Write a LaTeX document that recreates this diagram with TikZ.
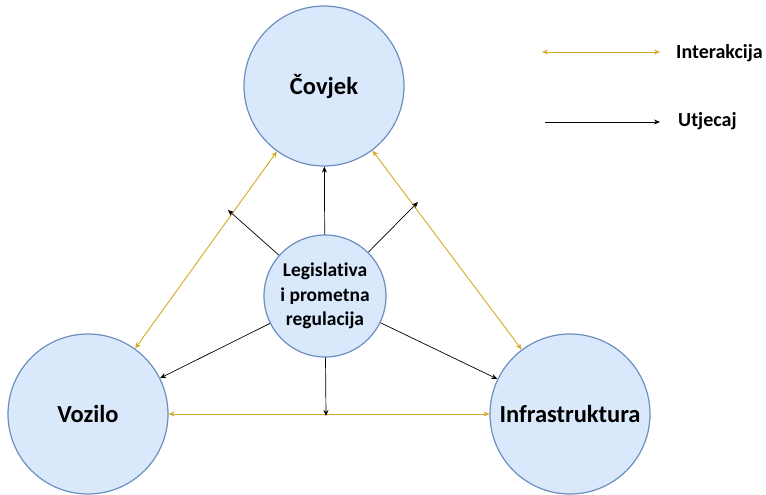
\documentclass[tikz,border=0pt]{standalone}
\usepackage{fontspec}
\setmainfont{Carlito}[Ligatures=NoCommon]
\usetikzlibrary{arrows.meta}
\definecolor{cfill}{RGB}{218,232,252}
\definecolor{cdraw}{RGB}{108,142,191}
\definecolor{gold}{RGB}{214,168,40}
\begin{document}
\begin{tikzpicture}[x=1pt,y=-1pt,
  bigc/.style={circle,draw=cdraw,fill=cfill,line width=1.2pt,minimum size=160pt,inner sep=0pt,font=\fontsize{24.5}{28}\selectfont\bfseries},
  midc/.style={circle,draw=cdraw,fill=cfill,line width=1.2pt,minimum size=122pt,inner sep=0pt,align=center,font=\fontsize{19.5}{24.5}\selectfont\bfseries},
  inter/.style={draw=gold,line width=0.9pt,{Stealth[length=6pt,width=5pt]}-{Stealth[length=6pt,width=5pt]}},
  infl/.style={draw=black,line width=0.7pt,-{Stealth[length=6pt,width=5pt]}},
  lab/.style={font=\fontsize{20}{22}\selectfont\bfseries,anchor=west,inner sep=0pt}]
\useasboundingbox (0,0) rectangle (766,495);
\node[bigc] (c) at (324,86) {Čovjek};
\node[bigc] (v) at (88,414) {Vozilo};
\node[bigc] (i) at (570,414) {Infrastruktura};
\node[midc] (m) at (325,296) {Legislativa\\i prometna\\regulacija};
\coordinate (ul) at (228,210);
\coordinate (ur) at (418,202);
\coordinate (dn) at (326,416);
\draw[inter] (c) -- (v);
\draw[inter] (c) -- (i);
\draw[inter] (v) -- (i);
\draw[infl] (m) -- (c);
\draw[infl] (m) -- (ul);
\draw[infl] (m) -- (ur);
\draw[infl] (m) -- (v);
\draw[infl] (m) -- (dn);
\draw[infl] (m) -- (i);
\coordinate (l1a) at (542,52);
\coordinate (l1b) at (660,52);
\coordinate (l2a) at (545,122);
\coordinate (l2b) at (660,122);
\draw[inter] (l1a) -- (l1b);
\draw[infl] (l2a) -- (l2b);
\node[lab] (t1) at (676,53) {Interakcija};
\node[lab] (t2) at (678,121) {Utjecaj};
\end{tikzpicture}
\end{document}
